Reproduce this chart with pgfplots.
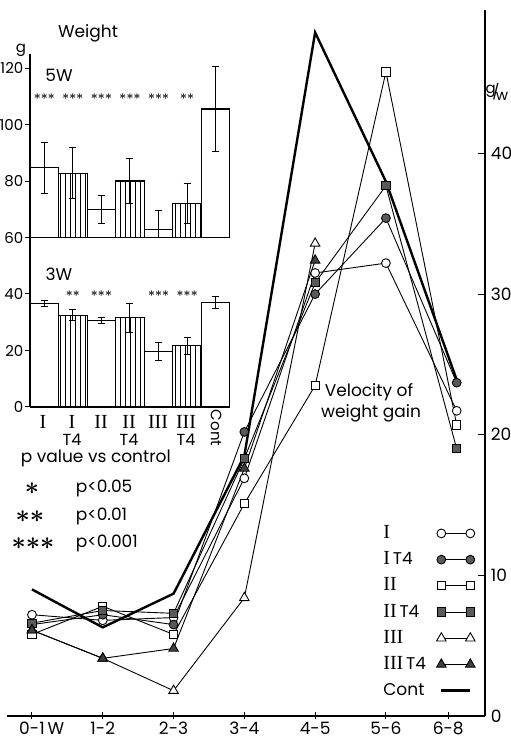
\documentclass[border=0pt]{standalone}
\usepackage{pgfplots}
\pgfplotsset{compat=1.18}
\usepackage{fontspec}
\setmainfont{Poppins}
\newfontfamily\rmn{Liberation Serif}
\usetikzlibrary{patterns.meta}
\newcommand{\fs}[1]{\fontsize{#1bp}{#1bp}\selectfont}
\newcommand{\st}{{\boldmath$\ast$}}
\newcommand{\sst}{\st\kern0.2bp}
\newcommand{\rn}[1]{{\rmn\fontsize{20bp}{20bp}\selectfont #1}}
\pgfplotsset{
  ln/.style={black, line width=0.9bp, mark size=4.4bp},
}
\begin{document}
\fs{17}%
\begin{tikzpicture}[x=1bp,y=1bp]
\path[use as bounding box] (0,0) rectangle (511,744);

% ---------------- main chart ----------------
\begin{axis}[
  at={(7bp,28bp)}, anchor=south west, scale only axis,
  width=478bp, height=706bp,
  xmin=-0.353, xmax=6.4, ymin=0, ymax=50.2,
  axis x line*=bottom, axis y line*=right,
  axis line style={-, line width=1.3bp},
  xtick={0,1,2,3,4,5,5.88},
  xticklabels={0-1\rlap{\,W},1-2,2-3,3-4,4-5,5-6,6-8},
  ytick={0,10,20,30,40},
  tick align=inside, major tick length=7bp,
  tick style={black, line width=1bp},
  every x tick/.append style={yshift=-3.5bp},
  xticklabel style={font=\fs{17}},
  yticklabel style={font=\fs{17}},
  /pgf/number format/assume math mode=true,
  legend plot pos=right,
  legend cell align=left,
  legend style={at={(axis cs:4.94,13.6)}, anchor=north west, draw=none, fill=none,
     font=\fs{17}, row sep=9.2bp, column sep=9bp, inner sep=0pt,
     nodes={inner sep=1.5bp, text height=12bp, text depth=2bp}},
  legend image code/.code={\draw[#1] plot coordinates {(0bp,0bp) (29bp,0bp)};},
]
\addplot[ln, mark=*, mark options={solid, fill=white}] coordinates {(0,7.2)(1,6.8)(2,7.0)(3,16.9)(4,31.5)(5,32.2)(6,21.7)};
\addlegendentry{\rn{I}}
\addplot[ln, mark=*, mark options={solid, fill=black!65}] coordinates {(0,6.5)(1,7.2)(2,6.5)(3,20.2)(4,30.0)(5,35.4)(6,23.7)};
\addlegendentry{\rn{I}\,T4}
\addplot[ln, mark=square*, mark size=4.1bp, mark options={solid, fill=white}] coordinates {(0,5.8)(1,7.8)(2,5.8)(3,15.1)(4,23.5)(5,45.8)(6,20.7)};
\addlegendentry{\rn{II}}
\addplot[ln, mark=square*, mark size=4.1bp, mark options={solid, fill=black!65}] coordinates {(0,6.6)(1,7.5)(2,7.3)(3,18.3)(4,30.8)(5,37.7)(6,19.0)};
\addlegendentry{\rn{II}\,T4}
\addplot[ln, mark=triangle*, mark size=5.5bp, mark options={solid, fill=white}] coordinates {(0,6.1)(1,4.1)(2,1.8)(3,8.4)(4,33.6)};
\addlegendentry{\rn{III}}
\addplot[ln, mark=triangle*, mark size=5.5bp, mark options={solid, fill=black!75}] coordinates {(0,6.1)(1,4.1)(2,4.8)(3,17.6)(4,32.4)};
\addlegendentry{\rn{III}\,T4}
\addplot[black, line width=2.4bp, mark=none] coordinates {(0,9.0)(1,6.3)(2,8.7)(3,18.5)(4,48.6)(5,38.0)(6,23.9)};
\addlegendentry{Cont}
\end{axis}

% ---------------- inset: 3W ----------------
\begin{axis}[
  at={(30bp,337bp)}, anchor=south west, scale only axis,
  width=200bp, height=169.5bp,
  xmin=0.5, xmax=7.5, ymin=0, ymax=60,
  axis x line*=bottom, axis y line*=left,
  axis line style={-, line width=1.2bp},
  xtick=\empty, ytick={0,20,40},
  tick align=outside, major tick length=5bp,
  tick style={black, line width=1bp},
  yticklabel style={font=\fs{15}, inner sep=1.5bp},
  /pgf/number format/assume math mode=true,
  ybar, bar width=1, bar shift=0pt,
  error bars/y dir=both, error bars/y explicit,
  error bars/error bar style={line width=1bp, black},
  error bars/error mark options={rotate=90, mark size=3.5bp, line width=1bp, black},
]
\addplot[draw=black, fill=white, line width=1.1bp] coordinates {(1,36.7) +- (0,1.1) (3,30.7) +- (0,1.0) (5,19.7) +- (0,3.1) (7,36.9) +- (0,2.2)};
\addplot[draw=black, line width=1.1bp, pattern={Lines[angle=90,distance=5bp,line width=0.9bp]}] coordinates {(2,32.5) +- (0,2.0) (4,31.6) +- (0,5.1) (6,21.7) +- (0,3.0)};
\node[font=\fs{13}, inner sep=0pt] at (axis cs:2,40) {\sst\st};
\node[font=\fs{13}, inner sep=0pt] at (axis cs:3,40) {\sst\sst\st};
\node[font=\fs{13}, inner sep=0pt] at (axis cs:5,40) {\sst\sst\st};
\node[font=\fs{13}, inner sep=0pt] at (axis cs:6,40) {\sst\sst\st};
\end{axis}

% ---------------- inset: 5W ----------------
\begin{axis}[
  at={(30bp,506.5bp)}, anchor=south west, scale only axis,
  width=200bp, height=183.5bp,
  xmin=0.5, xmax=7.5, ymin=60, ymax=125,
  axis x line*=bottom, axis y line*=left,
  axis line style={-, line width=1.2bp},
  xtick=\empty, ytick={60,80,100,120},
  tick align=outside, major tick length=5bp,
  tick style={black, line width=1bp},
  yticklabel style={font=\fs{15}, inner sep=1.5bp},
  /pgf/number format/assume math mode=true,
  ybar, bar width=1, bar shift=0pt,
  error bars/y dir=both, error bars/y explicit,
  error bars/error bar style={line width=1bp, black},
  error bars/error mark options={rotate=90, mark size=3.5bp, line width=1bp, black},
]
\addplot[draw=black, fill=white, line width=1.1bp] coordinates {(1,84.7) +- (0,9.0) (3,69.8) +- (0,5.0) (5,62.9) +- (0,6.8) (7,105.5) +- (0,15.0)};
\addplot[draw=black, line width=1.1bp, pattern={Lines[angle=90,distance=5bp,line width=0.9bp]}] coordinates {(2,82.7) +- (0,9.0) (4,80.0) +- (0,8.0) (6,72.1) +- (0,7.0)};
\node[font=\fs{13}, inner sep=0pt] at (axis cs:1,110) {\sst\sst\st};
\node[font=\fs{13}, inner sep=0pt] at (axis cs:2,110) {\sst\sst\st};
\node[font=\fs{13}, inner sep=0pt] at (axis cs:3,110) {\sst\sst\st};
\node[font=\fs{13}, inner sep=0pt] at (axis cs:4,110) {\sst\sst\st};
\node[font=\fs{13}, inner sep=0pt] at (axis cs:5,110) {\sst\sst\st};
\node[font=\fs{13}, inner sep=0pt] at (axis cs:6,110) {\sst\st};
\end{axis}

% ---------------- texts ----------------
\node[font=\fs{17}] at (88,711) {Weight};
\node[font=\fs{15}] at (21,694) {g};
\node[font=\fs{17}, inner sep=0pt] at (59,669) {5W};
\node[font=\fs{17}, inner sep=0pt] at (59,470) {3W};
\foreach \x/\t in {43/I,72/I,101/II,129/II,158/III,186/III}{
  \node at (\x,322) {\rn{\t}};
}
\foreach \x in {72,129,186}{ \node[font=\fs{16}] at (\x,304) {T4}; }
\node[font=\fs{15}, rotate=-90] at (216,316) {Cont};

\node[font=\fs{17}, anchor=west] at (15,286) {p value vs control};
\node[font=\fs{28}] at (32,255) {\st};
\node[font=\fs{28}] at (30,227) {\st\st};
\node[font=\fs{28}] at (33,200) {\st\st\st};
\node[font=\fs{17}, anchor=west] at (70,256) {p<0.05};
\node[font=\fs{17}, anchor=west] at (70,228) {p<0.01};
\node[font=\fs{17}, anchor=west] at (70,201) {p<0.001};

\node[font=\fs{17}] at (369,352) {Velocity of};
\node[font=\fs{17}] at (371,331) {weight gain};
\node[font=\fs{15}, inner sep=0pt] at (497,652) {\raisebox{4bp}{g}\kern-3.5bp/\kern-3.5bp\raisebox{-3bp}{w}};
\end{tikzpicture}
\end{document}
